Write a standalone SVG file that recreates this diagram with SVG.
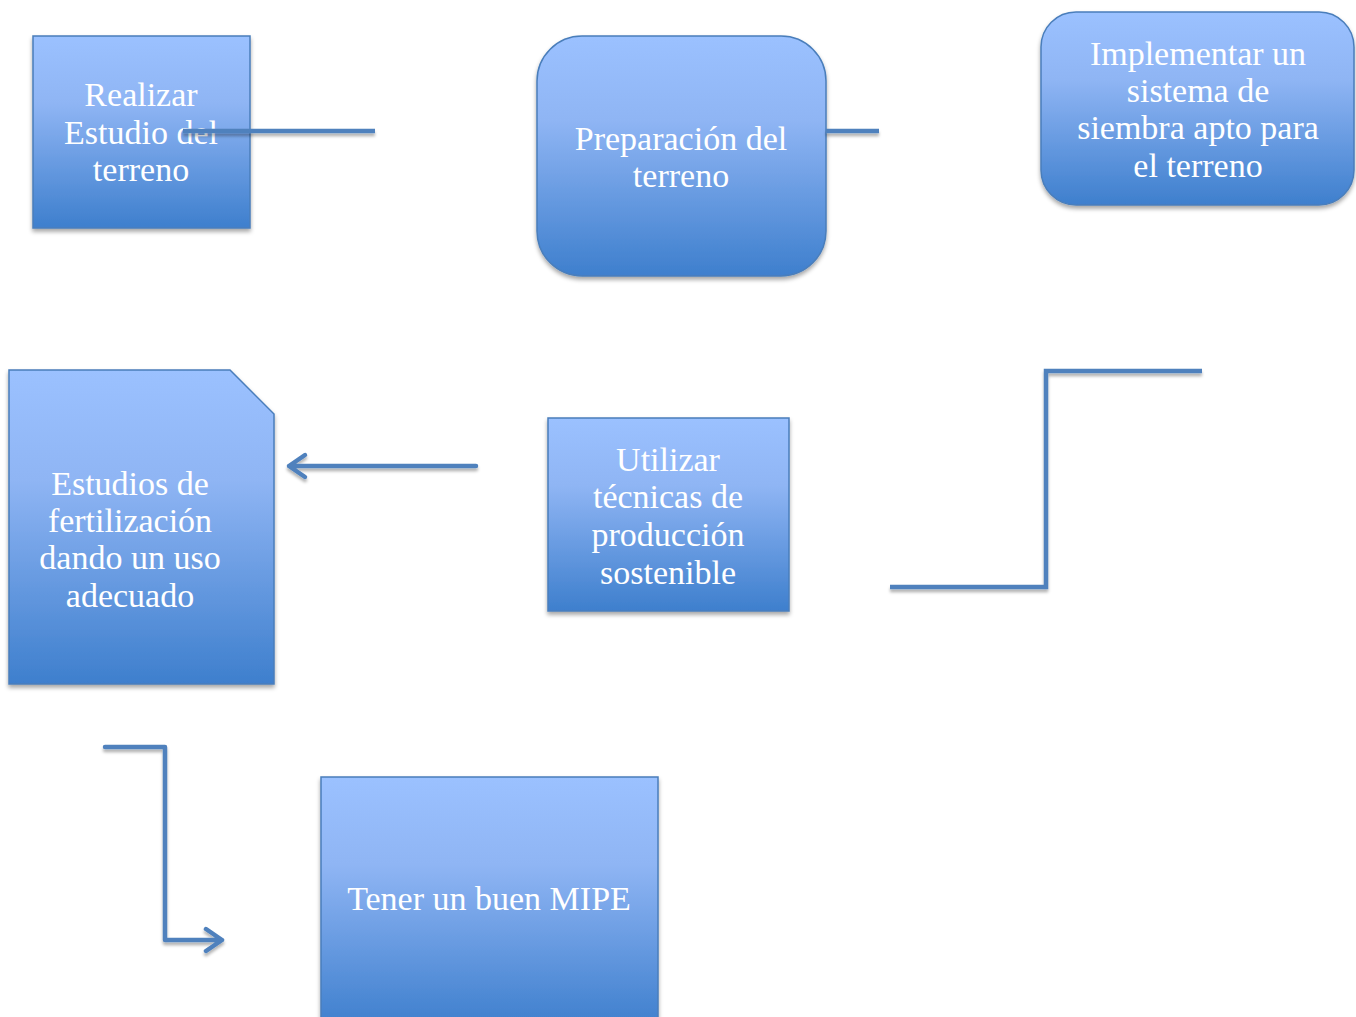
<svg xmlns="http://www.w3.org/2000/svg" width="1356" height="1017" viewBox="0 0 1356 1017">
<defs>
<linearGradient id="g" x1="0" y1="0" x2="0" y2="1">
<stop offset="0" stop-color="#9bc1ff"/>
<stop offset="0.35" stop-color="#8fb5f4"/>
<stop offset="1" stop-color="#3e7fcd"/>
</linearGradient>
<filter id="sh" x="-10%" y="-10%" width="120%" height="130%">
<feDropShadow dx="0" dy="3" stdDeviation="2" flood-color="#000" flood-opacity="0.35"/>
</filter>
<filter id="lsh" filterUnits="userSpaceOnUse" x="0" y="0" width="1356" height="1017">
<feDropShadow dx="0" dy="3" stdDeviation="1.5" flood-color="#000" flood-opacity="0.3"/>
</filter>
</defs>
<style>
.box{fill:url(#g);stroke:#4a7ebb;stroke-width:1.5;filter:url(#sh)}
.t{font-family:"Liberation Serif","DejaVu Serif",serif;font-size:34px;fill:#fff;text-anchor:middle}
.c{fill:none;stroke:#4f81bd;stroke-width:4.5;filter:url(#lsh)}
</style>
<g id="n1">
<rect class="box" x="33" y="36" width="217" height="192"/>
<text class="t" x="141" y="106">Realizar</text>
<text class="t" x="141" y="144">Estudio del</text>
<text class="t" x="141" y="181">terreno</text>
</g>
<g id="n2">
<rect class="box" x="537" y="36" width="289" height="240" rx="45"/>
<text class="t" x="681" y="150">Preparación del</text>
<text class="t" x="681" y="187">terreno</text>
</g>
<g id="n3">
<rect class="box" x="1041" y="12" width="313" height="193" rx="35"/>
<text class="t" x="1198" y="65">Implementar un</text>
<text class="t" x="1198" y="102">sistema de</text>
<text class="t" x="1198" y="139">siembra apto para</text>
<text class="t" x="1198" y="177">el terreno</text>
</g>
<g id="n4">
<path class="box" d="M9,370 H230 L274,414 V684 H9 Z"/>
<text class="t" x="130" y="495">Estudios de</text>
<text class="t" x="130" y="532">fertilización</text>
<text class="t" x="130" y="569">dando un uso</text>
<text class="t" x="130" y="607">adecuado</text>
</g>
<g id="n5">
<rect class="box" x="548" y="418" width="241" height="193"/>
<text class="t" x="668" y="471">Utilizar</text>
<text class="t" x="668" y="508">técnicas de</text>
<text class="t" x="668" y="546">producción</text>
<text class="t" x="668" y="584">sostenible</text>
</g>
<g id="n6">
<rect class="box" x="321" y="777" width="337" height="250"/>
<text class="t" x="489" y="910">Tener un buen MIPE</text>
</g>
<g id="connectors">
<path class="c" d="M183,131 H375"/>
<path class="c" d="M826,131 H879"/>
<path class="c" d="M476,466 H289 M305,455 L289,466 L305,477" stroke-linecap="round" stroke-linejoin="round"/>
<path class="c" d="M890,587 H1046 V371 H1202"/>
<path class="c" d="M105,747 H165 V940 H222 M206,929 L222,940 L206,951" stroke-linecap="round" stroke-linejoin="round"/>
</g>
</svg>
